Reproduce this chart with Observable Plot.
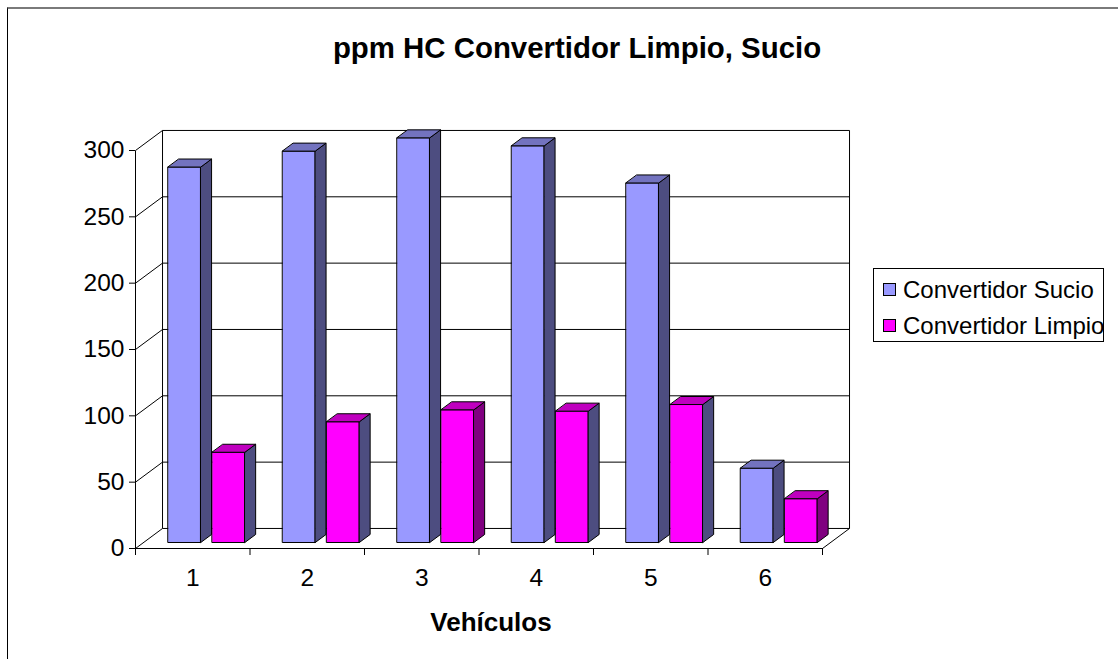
<!DOCTYPE html>
<html>
<head>
<meta charset="utf-8">
<script src="https://cdn.jsdelivr.net/npm/d3@7"></script>
<script src="https://cdn.jsdelivr.net/npm/@observablehq/plot@0.6"></script>
<style>
  body { margin: 0; background: #fff; font-family: "Liberation Sans", Arial, sans-serif; }
  #wrap { position: relative; width: 1118px; height: 659px; overflow: hidden; background: #fff; }
  #frame { position: absolute; left: 7px; top: 7px; width: 1120px; height: 700px;
           border-top: 2px solid #7a7a7a; border-left: 1.5px solid #000; box-sizing: border-box; }
  #chart { position: absolute; left: 0; top: 0; }
  #title { position: absolute; left: 577px; top: 30px; transform: translateX(-50%);
           font-weight: bold; font-size: 29.4px; line-height: 36px; white-space: nowrap; color: #000; }
  #xtitle { position: absolute; left: 491px; top: 607px; transform: translateX(-50%);
            font-weight: bold; font-size: 26px; line-height: 30px; white-space: nowrap; color: #000; }
  #legend { position: absolute; left: 873px; top: 268px; width: 231px; height: 74px;
            border: 1px solid #000; box-sizing: border-box; background: #fff; }
  .item { position: absolute; left: 9px; height: 28px; line-height: 28px; font-size: 24px; white-space: nowrap; }
  .swatch { position: absolute; left: 0; top: 7px; width: 13px; height: 13px; border: 1px solid #000; box-sizing: border-box; }
  .item span.lab { position: absolute; left: 20px; top: 0; }
</style>
</head>
<body>
<div id="wrap">
  <div id="frame"></div>
  <div id="chart"></div>
  <div id="title">ppm HC Convertidor Limpio, Sucio</div>
  <div id="xtitle">Vehículos</div>
  <div id="legend"></div>
</div>
<script>
// Vehicle numbers and HC readings (ppm) for each converter condition
const categories = [1, 2, 3, 4, 5, 6];
const sucio = [283, 295, 305, 299, 271, 56];
const limpio = [68, 91, 100, 99, 104, 33];
const yTicks = [0, 50, 100, 150, 200, 250, 300];
const seriesNames = ["Convertidor Sucio", "Convertidor Limpio"];

// Styling of the pseudo-3D columns
const palette = {
  sucio: {front: "#9999ff", top: "#7373bf", side: "#4d4d80"},
  limpio: {front: "#ff00ff", top: "#bf00bf", side: "#4d4d80"}
};
const limpioSideFill = ["#4d4d80", "#4d4d80", "#800080", "#4d4d80", "#4d4d80", "#800080"];

// Oblique projection: a unit of depth moves right (category units) and up (ppm units)
const depthX = 0.236;
const depthY = 15.1;
const barFront = 0.3;     // depth of the columns' front face
const barDepth = 0.4;     // thickness of the columns
const barSpan = {sucio: [-0.215, 0.07], limpio: [0.17, 0.455]};

const x0 = categories[0] - 0.5;
const x1 = categories[categories.length - 1] + 0.5;
const yMax = yTicks[yTicks.length - 1];

// Faces of each column as closed polygons, in drawing order
const faces = [];
const base = barFront * depthY;
const wx = barDepth * depthX, wy = barDepth * depthY;
categories.forEach((c, i) => {
  [["sucio", sucio[i]], ["limpio", limpio[i]]].forEach(([key, v]) => {
    const [a, b] = barSpan[key].map(o => c + o);
    const col = palette[key];
    const side = key === "limpio" ? limpioSideFill[i] : col.side;
    const poly = (name, fill, pts) => pts.forEach(([px, py]) =>
      faces.push({id: `${c}-${key}-${name}`, x: px, y: py, fill}));
    poly("front", col.front, [[a, base], [b, base], [b, base + v], [a, base + v]]);
    poly("side", side, [[b, base], [b + wx, base + wy], [b + wx, base + v + wy], [b, base + v]]);
    poly("top", col.top, [[a, base + v], [b, base + v], [b + wx, base + v + wy], [a + wx, base + v + wy]]);
  });
});

// Wall, floor and gridline edges
const edges = [
  ...yTicks.map(v => ({x1: x0, y1: v, x2: x0 + depthX, y2: v + depthY})),
  ...yTicks.map(v => ({x1: x0 + depthX, y1: v + depthY, x2: x1 + depthX, y2: v + depthY})),
  {x1: x0 + depthX, y1: depthY, x2: x0 + depthX, y2: yMax + depthY},
  {x1: x1 + depthX, y1: depthY, x2: x1 + depthX, y2: yMax + depthY},
  {x1: x0, y1: 0, x2: x0, y2: yMax},
  {x1: x0, y1: 0, x2: x1, y2: 0},
  {x1: x1, y1: 0, x2: x1 + depthX, y2: depthY}
];

const boundaries = d3.range(x0, x1 + 0.01, 1);

const chart = Plot.plot({
  width: 1118,
  height: 659,
  marginLeft: 135,
  marginRight: 296,
  marginTop: 150,
  marginBottom: 111,
  style: {fontFamily: "'Liberation Sans', Arial, sans-serif", fontSize: "24px", color: "#000", background: "transparent"},
  x: {type: "linear", domain: [x0, x1]},
  y: {type: "linear", domain: [0, yMax]},
  color: {type: "identity"},
  marks: [
    Plot.link(edges, {x1: "x1", y1: "y1", x2: "x2", y2: "y2", stroke: "#000", strokeWidth: 1}),
    Plot.axisY({ticks: yTicks, tickSize: 6, tickPadding: 5, label: null, fontSize: 24.5}),
    Plot.axisX({ticks: boundaries, tickSize: 7, tickFormat: () => "", label: null}),
    Plot.axisX({ticks: categories, tickSize: 0, tickPadding: 20, tickFormat: d3.format("d"), label: null, fontSize: 24.5}),
    Plot.line(faces, {x: "x", y: "y", z: "id", fill: "fill", stroke: "#000", strokeWidth: 1, curve: "linear-closed"})
  ]
});
document.getElementById("chart").appendChild(chart);

// Legend
const legend = document.getElementById("legend");
[palette.sucio.front, palette.limpio.front].forEach((color, i) => {
  const item = document.createElement("div");
  item.className = "item";
  item.style.top = (i === 0 ? 7 : 43) + "px";
  const sw = document.createElement("span");
  sw.className = "swatch";
  sw.style.background = color;
  const lab = document.createElement("span");
  lab.className = "lab";
  lab.textContent = seriesNames[i];
  item.appendChild(sw);
  item.appendChild(lab);
  legend.appendChild(item);
});
</script>
</body>
</html>
